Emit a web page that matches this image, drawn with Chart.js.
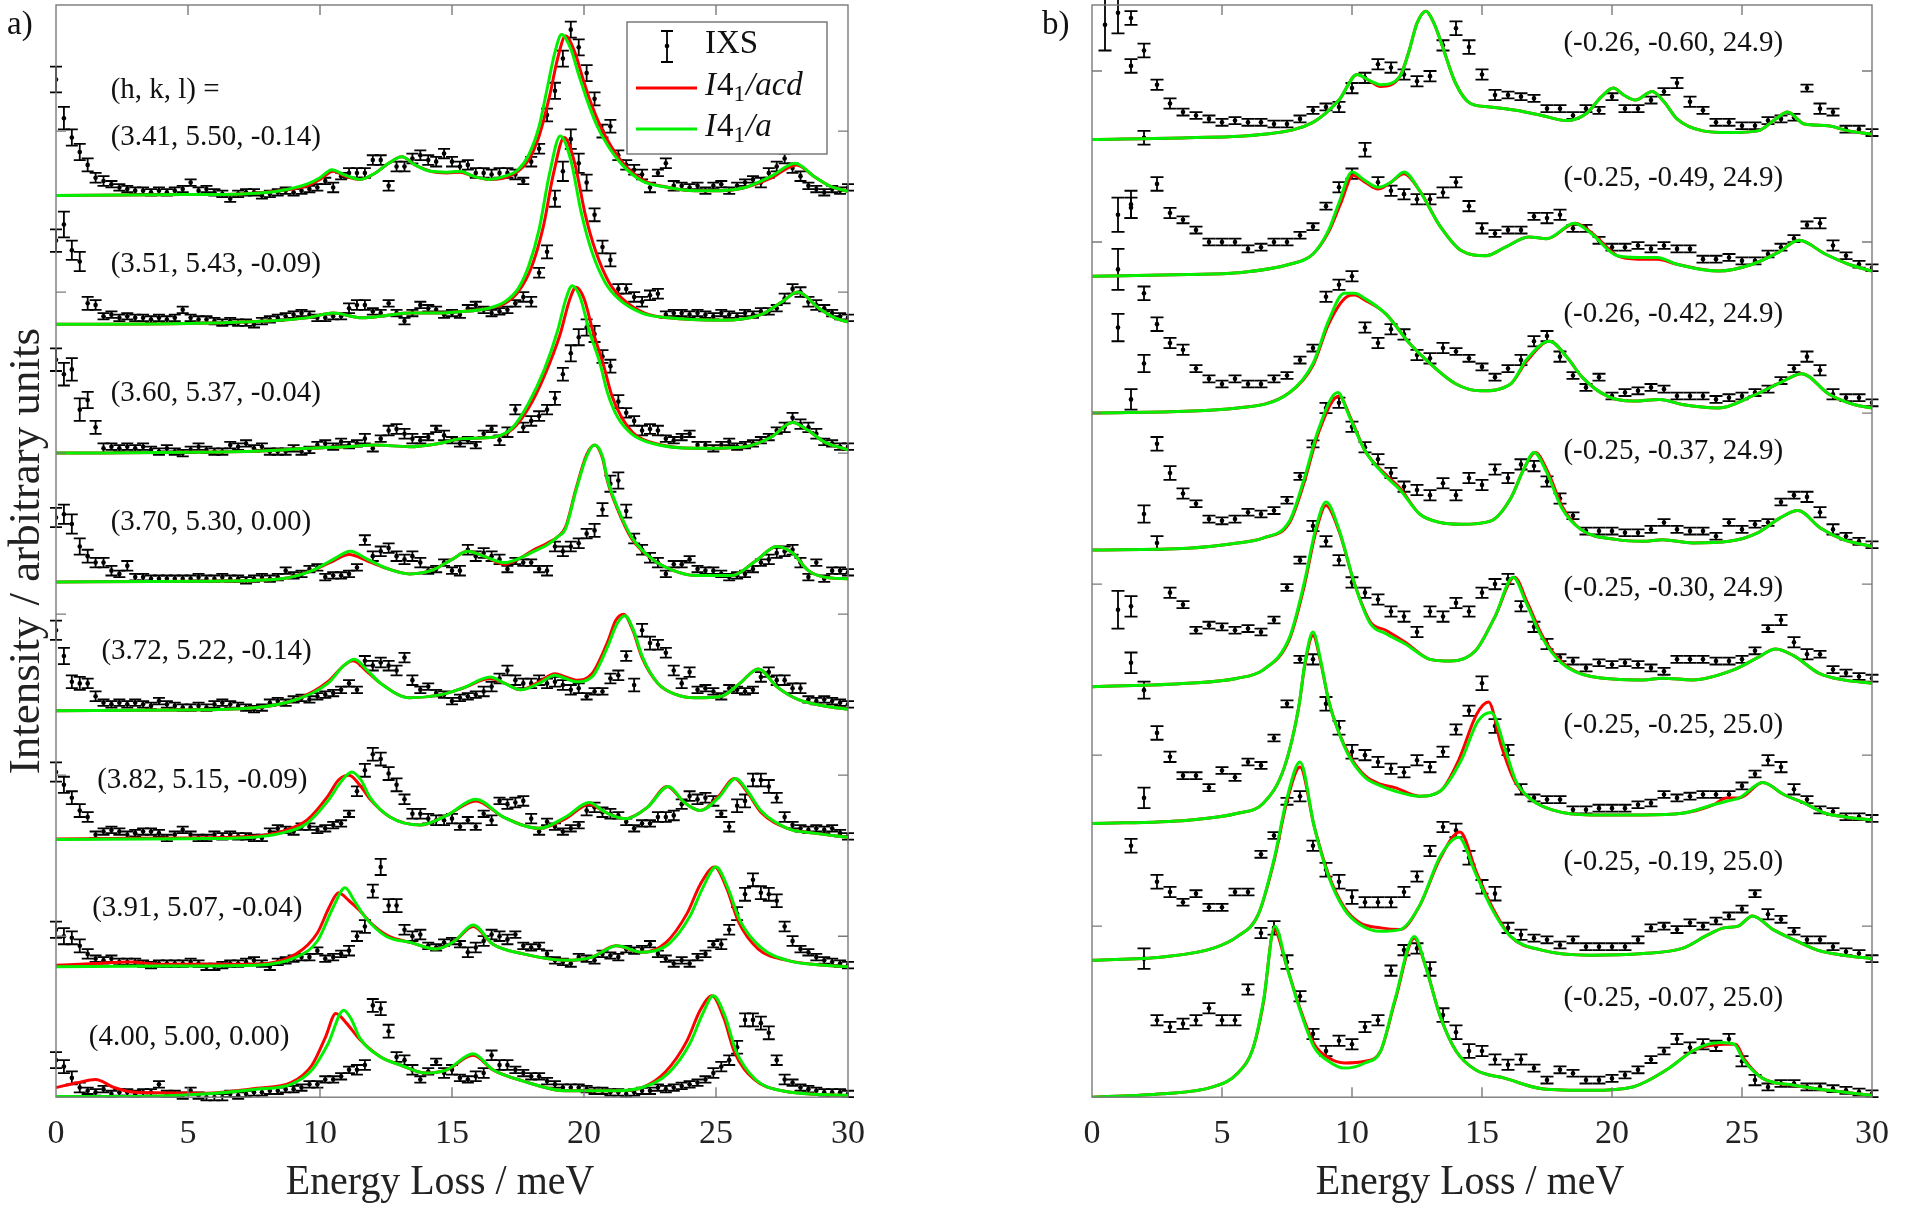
<!DOCTYPE html>
<html>
<head>
<meta charset="utf-8">
<script src="https://cdn.jsdelivr.net/npm/chart.js@4.4.1/dist/chart.umd.min.js"></script>
<style>
  html, body { margin: 0; padding: 0; background: #fff; }
  #wrap { position: relative; width: 1905px; height: 1213px; overflow: hidden; }
  #chartA { position: absolute; left: 0; top: 0; }
  #chartB { position: absolute; left: 952px; top: 0; }
</style>
</head>
<body>
<div id="wrap">
  <canvas id="chartA" width="952" height="1213"></canvas>
  <canvas id="chartB" width="953" height="1213"></canvas>
</div>
<script>
// ---------------------------------------------------------------
// data: intensities in hundredths of one y tick, spectra listed top -> bottom
// ---------------------------------------------------------------
const energiesA = [0,0.3,0.6,0.9,1.2,1.5,1.8,2.1,2.4,2.7,3,3.3,3.6,3.9,4.2,4.5,4.8,5.1,5.4,5.7,6,6.3,6.6,6.9,7.2,7.5,7.8,8.1,8.4,8.7,9,9.3,9.6,9.9,10.2,10.5,10.8,11.1,11.4,11.7,12,12.3,12.6,12.9,13.2,13.5,13.8,14.1,14.4,14.7,15,15.3,15.6,15.9,16.2,16.5,16.8,17.1,17.4,17.7,18,18.3,18.6,18.9,19.2,19.5,19.8,20.1,20.4,20.7,21,21.3,21.6,21.9,22.2,22.5,22.8,23.1,23.4,23.7,24,24.3,24.6,24.9,25.2,25.5,25.8,26.1,26.4,26.7,27,27.3,27.6,27.9,28.2,28.5,28.8,29.1,29.4,29.7,30];
const energiesB = [0.5,1,1.5,2,2.5,3,3.5,4,4.5,5,5.5,6,6.5,7,7.5,8,8.5,9,9.5,10,10.5,11,11.5,12,12.5,13,13.5,14,14.5,15,15.5,16,16.5,17,17.5,18,18.5,19,19.5,20,20.5,21,21.5,22,22.5,23,23.5,24,24.5,25,25.5,26,26.5,27,27.5,28,28.5,29,29.5,30];
const xTicks = [0, 5, 10, 15, 20, 25, 30];

const hklA = ['(3.41, 5.50, -0.14)', '(3.51, 5.43, -0.09)', '(3.60, 5.37, -0.04)', '(3.70, 5.30, 0.00)',
              '(3.72, 5.22, -0.14)', '(3.82, 5.15, -0.09)', '(3.91, 5.07, -0.04)', '(4.00, 5.00, 0.00)'];
const hklB = ['(-0.26, -0.60, 24.9)', '(-0.25, -0.49, 24.9)', '(-0.26, -0.42, 24.9)', '(-0.25, -0.37, 24.9)',
              '(-0.25, -0.30, 24.9)', '(-0.25, -0.25, 25.0)', '(-0.25, -0.19, 25.0)', '(-0.25, -0.07, 25.0)'];

// IXS points, panel a
const ixsA0 = [72,48,36,27,19,11,9,7,5,4, 3,3,2,3,2,3,4,8,3,4, 2,1,-2,1,2,2,0,1,2,3, 2,3,4,5,9,5,12,14,14,14, 22,22,6,18,18,23,25,22,21,26, 21,18,19,14,14,13,14,14,13,9, 21,29,50,65,85,103,92,76,60,40, 43,25,19,16,13,5,14,20,6,6, 5,6,3,6,7,3,6,8,10,8, 14,18,23,17,12,6,4,2,4,3, 5];
const ixsA1 = [52,62,46,39,13,12,5,6,4,5, 4,4,3,4,3,4,9,4,3,3, 2,1,2,1,1,0,2,3,4,5, 6,7,6,4,4,5,5,10,12,12, 8,7,13,7,2,7,12,10,9,6, 7,6,10,12,9,7,8,9,13,17, 14,32,45,78,95,115,100,88,68,48, 40,22,22,17,14,18,19,6,7,7, 6,7,6,5,7,6,5,7,6,8, 8,10,16,22,20,14,12,10,7,5, 4];
const ixsA2 = [58,49,52,27,33,16,3,4,3,4, 3,4,2,1,3,1,0,2,4,2, 1,1,5,4,6,3,4,1,1,1, 3,1,2,5,6,4,7,5,6,9, 3,9,14,15,12,9,8,10,15,11, 8,6,8,5,12,15,8,13,27,16, 20,23,27,34,49,62,72,78,74,60, 54,32,25,20,14,15,14,9,8,10, 12,5,5,3,5,7,4,5,6,8, 10,14,16,22,18,16,12,7,6,4, 4];
const ixsA3 = [40,42,36,22,16,12,12,7,5,10, 3,3,2,2,2,2,2,2,3,2, 2,3,2,2,1,2,3,2,3,7, 4,5,8,9,3,4,4,5,9,26, 16,19,21,16,14,16,12,7,8,12, 7,7,20,16,18,16,14,8,13,12, 12,8,7,22,19,22,24,30,32,45, 61,63,44,27,20,15,12,5,11,11, 14,8,7,7,5,3,4,5,8,12, 14,18,19,20,12,3,12,2,7,7, 6];
const ixsA4 = [50,34,18,17,17,9,5,4,5,4, 5,4,3,6,4,3,2,2,3,2, 4,5,4,3,2,1,2,5,6,5, 7,8,7,9,10,11,13,17,13,31, 28,30,28,25,33,19,13,15,11,10, 6,8,9,10,12,15,20,25,19,17, 17,19,17,18,16,13,14,9,12,12, 20,22,34,16,50,42,41,36,25,17, 24,13,14,12,9,14,13,12,13,21, 24,19,19,14,14,7,6,7,6,5, 4];
const ixsA5 = [42,34,26,18,14,3,5,6,5,3, 4,5,5,4,1,3,6,3,1,1, 3,2,3,2,2,1,1,5,7,6, 5,8,8,6,7,9,10,16,30,43, 53,50,41,34,25,16,16,13,12,12, 13,8,12,8,16,12,24,22,23,24, 13,5,11,8,5,7,9,18,20,17, 16,15,11,7,10,10,14,14,15,22, 27,25,26,24,16,8,21,24,37,37, 33,26,14,9,7,6,7,6,7,4, 2];
const ixsA6 = [24,20,19,14,9,6,5,6,4,4, 4,3,2,3,3,3,3,4,3,1, 1,2,3,3,4,5,3,1,4,5, 6,7,7,11,6,7,9,11,20,26, 48,63,39,39,24,20,21,14,13,16, 17,15,10,13,17,21,20,18,21,14, 13,14,9,5,4,3,7,6,5,9, 8,7,12,11,12,15,9,6,3,5, 3,7,9,15,15,24,34,46,55,47, 46,42,26,17,12,10,7,5,4,3, 2];
const ixsA7 = [23,19,12,6,4,3,5,2,3,3, 2,3,3,8,2,2,1,4,1,0, 0,0,2,1,2,3,3,4,4,5, 5,6,8,8,11,11,13,17,17,20, 57,55,41,25,23,17,11,16,22,15, 17,12,11,13,15,26,20,20,17,15, 13,13,10,8,6,6,6,5,4,4, 3,3,2,3,4,4,6,5,6,7, 8,9,11,15,19,23,31,48,48,46, 40,23,11,9,6,5,4,3,3,3, 2];

// error bar half heights, one base-36 digit per point (hundredths of a tick)
const errA0 = ['8755433222','2222222222','2222222222','2222232333','3333333333','3333333332','3345555544','4333332332','2222222223','3333322222','2'].join('');
const errA1 = ['7866432222','2222222222','2222222222','2222222333','2222222222','2222222223','3345666544','4333333222','2222222222','2233333222','2'].join('');
const errA2 = ['7777543222','2222222222','2222222222','2222222223','2233332223','2222223333','3334455554','4433333222','2222222222','2233333222','2'].join('');
const errA3 = ['6665433323','2222222222','2222222222','2222222223','3333333222','2333333222','2233333344','5543333222','2222222222','3333322222','2'].join('');
const errA4 = ['6544332222','2222222222','2222222222','2222222223','3333332222','2222333333','3333333222','3334443333','3222222223','3333322222','2'].join('');
const errA5 = ['6544322222','2222222222','2222222222','2222222234','4444333333','3222232333','3222222333','3222223333','3333234444','4332222222','2'].join('');
const errA6 = ['5544322222','2222222222','2222222222','2222222334','4544333222','2233333322','2222222222','2222222222','2222334444','4433222222','2'].join('');
const errA7 = ['5443222222','2222222222','2222222222','2222222233','4443332223','3223333322','2222222222','2222222222','2223334444','4332222222','2'].join('');

// IXS points, panel b (null = no point)
const ixsB0 = [67,74,71,52,32,21,16,14,12,10, 11,10,10,9,9,12,17,19,19,30, 36,44,42,38,34,37,55,65,54,38, 26,26,25,24,18,18,14,18,17,25, 18,18,23,28,33,22,17,10,10,8, 8,11,12,13,30,18,16,6,6,4];
const ixsB1 = [null,36,42,81,54,37,33,27,20,20, 20,16,17,20,20,24,29,41,52,60, 74,55,50,48,45,45,49,55,41,28, 25,27,27,35,34,36,28,28,21,17, 17,18,16,18,16,16,10,10,11,9, 9,13,17,22,30,31,18,12,7,5];
const ixsB2 = [null,84,null,70,52,41,37,26,20,17, 20,17,17,20,22,31,38,68,75,80, 50,41,49,46,34,32,38,36,32,27, 21,26,31,42,45,33,22,15,21,10, 12,13,15,14,10,10,10,8,9,10, 12,14,19,26,33,25,11,9,9,6];
const ixsB3 = [null,null,88,21,62,45,33,27,18,17, 18,22,21,23,29,43,62,83,86,72, 60,53,45,37,35,32,39,32,42,38, 47,42,50,49,40,30,20,11,11,11, 10,10,12,16,12,11,11,8,16,12, 15,16,28,32,31,22,12,8,5,3];
const ixsB4 = [null,45,47,-2,84,55,48,33,36,35, 33,34,32,39,58,74,94,85,74,61, 55,51,44,41,32,44,41,49,44,55, 60,63,47,35,25,17,15,11,14,13, 14,13,11,9,16,16,16,15,15,16, 21,34,39,26,19,19,10,8,6,5];
const ixsB5 = [null,null,94,15,53,39,28,28,21,31, 27,36,34,50,70,96,96,70,56,42, 40,36,32,30,37,33,42,55,66,82, 57,43,20,15,14,14,8,8,9,9, 9,11,12,17,15,16,17,17,17,22, 29,37,33,20,14,8,7,4,4,3];
const ixsB6 = [null,null,67,1,46,40,34,39,31,31, 40,40,62,73,93,96,67,53,46,37, 34,34,34,40,49,64,78,76,60,43, 39,19,15,13,12,9,12,8,8,8, 8,12,19,20,18,22,20,23,26,30, 39,27,24,17,12,12,8,5,4,1];
const ixsB7 = [null,null,null,null,45,41,43,45,52,45, 45,63,96,99,79,59,37,27,33,31, 41,45,74,86,87,75,48,38,27,27, 22,19,22,17,10,16,14,10,10,11, 13,16,22,27,34,29,31,30,34,21, 10,6,8,8,6,6,5,4,3,2];

const errB0 = ['fc44332222','2222222233','3333333443','3222222222','2222332222','2222232222'].join('');
const errB1 = ['0a84432222','2222222233','4333333333','2222332222','2222222222','2222233222'].join('');
const errB2 = ['0c04433222','2222222333','3333333222','2233332222','2222222222','2222333222'].join('');
const errB3 = ['0065443222','2222222333','3333333333','3333332222','2222222222','2222333222'].join('');
const errB4 = ['0b65432222','2222223333','3333333333','3333322222','2222222222','2233322222'].join('');
const errB5 = ['0066432222','2222223444','3333333334','4332222222','2222222222','2333222222'].join('');
const errB6 = ['0046432222','2222233444','3333333444','4332222222','2222222222','2322222222'].join('');
const errB7 = ['0000333333','3334433333','3333344443','3332222222','2222333333','3222222222'].join('');

// second readings at the same energy: [spectrum, energy, value, error]
const extraB = [[0, 1.5, 43, 4], [1, 1.5, 40, 6], [2, 1.0, 50, 8], [2, 2.0, 29, 5]];

// model curves [energy, value], panel a
const acdA0 = [[0,0],[4,0.5],[7,1],[8.5,3],[9.5,6],[10,10],[10.5,15],[10.95,12],[11.5,10],[12.1,14],[12.6,20],[13.1,24],[13.6,19],[14.2,15],[14.8,14],[15.3,14.5],[15.8,12],[16.4,10],[17,11],[17.5,15],[17.9,22],[18.3,37],[18.7,62],[19,85],[19.3,99],[19.65,89],[19.95,73],[20.25,58],[20.65,42],[21.05,30],[21.6,18],[22.3,9],[23.2,5],[24.2,3],[25.2,3],[26.1,5],[27.1,11],[28.05,19],[28.7,12],[29.3,6],[30,2.5]];
const aA0 = [[0,0],[4,0.5],[7,1],[8.5,3],[9.5,7],[10,11],[10.45,16],[10.9,13],[11.5,10],[12.1,14],[12.6,20],[13.1,24],[13.6,19],[14.2,15],[14.8,14.5],[15.3,15],[15.8,12],[16.4,10],[17,12],[17.5,16],[17.9,25],[18.3,43],[18.6,66],[18.9,89],[19.15,100],[19.5,91],[19.8,75],[20.1,60],[20.5,43],[20.9,31],[21.45,19],[22.2,9],[23.2,5],[24.2,3],[25.2,3],[26.1,5],[27.1,12],[28,20],[28.7,12],[29.3,6],[30,2.5]];
const acdA1 = [[0,0],[5,0.5],[8,2],[9.5,4],[10.5,7],[11.6,4],[12.5,5.5],[13.4,7],[14.5,7],[15.4,8],[16.4,10],[17,13],[17.5,20],[18,35],[18.45,60],[18.85,94],[19.25,116],[19.65,100],[20.05,68],[20.45,45],[20.95,26],[21.45,16],[22.3,7],[23.2,4],[25.2,2.5],[26.7,6],[27.5,14],[28.1,20],[28.9,10],[29.5,4],[30,1.5]];
const aA1 = [[0,0],[5,0.5],[8,2],[9.5,4],[10.5,7],[11.6,4],[12.5,5.5],[13.4,7],[14.5,7],[15.4,8],[16.4,10],[17,14],[17.5,22],[17.9,36],[18.3,59],[18.7,94],[19.1,117],[19.5,102],[19.9,69],[20.3,45],[20.8,26],[21.3,16],[22.2,7],[23.2,4],[25.2,2.5],[26.7,6],[27.5,14],[28.1,20],[28.9,10],[29.5,4],[30,1.5]];
const acdA2 = [[0,0],[5,0.5],[8,1.5],[9.5,3],[11,4],[12.1,5],[13.4,4],[14.5,6],[15.4,9],[16.6,10],[17.3,15],[17.9,28],[18.5,48],[19.1,74],[19.45,95],[19.7,103],[20,96],[20.35,75],[20.75,54],[21.05,36],[21.4,23],[21.9,12],[22.7,6],[24.2,3],[26.1,4],[27.1,10],[27.9,19],[28.5,14],[29.1,7],[30,2]];
const aA2 = [[0,0],[5,0.5],[8,1.5],[9.5,3],[11,4],[12.1,5],[13.4,4],[14.5,6],[15.4,9],[16.6,10],[17.3,16],[17.9,31],[18.5,52],[19,76],[19.3,95],[19.55,104],[19.85,97],[20.2,76],[20.6,56],[20.9,37],[21.25,23],[21.8,12],[22.6,6],[24.2,3],[26.1,4],[27.1,10],[27.9,19],[28.5,14],[29.1,7],[30,2]];
const acdA3 = [[0,0],[6,0.5],[8.55,2],[9.7,7],[10.5,13],[11.1,17],[11.8,13],[12.6,8],[13.4,5],[14.2,7],[15,14],[15.6,19],[16.2,16],[17,11],[17.6,15],[18.1,20],[18.6,24],[19,28],[19.3,34],[19.7,58],[20.1,79],[20.4,85],[20.7,77],[20.9,62],[21.25,46],[21.8,27],[22.6,14],[23.4,7],[24.2,4],[25.6,4],[26.5,13],[27.3,22],[27.9,18],[28.5,7],[29.1,3],[30,2]];
const aA3 = [[0,0],[6,0.5],[8.55,2],[9.7,7],[10.5,14],[11.15,19],[11.8,14],[12.6,8],[13.4,5],[14.2,7],[15,14],[15.6,19],[16.2,16],[17,12],[17.6,15],[18.1,19],[18.6,23],[19,28],[19.3,33],[19.7,57],[20.1,78],[20.4,85],[20.7,78],[20.9,63],[21.25,47],[21.8,28],[22.6,14],[23.4,7],[24.2,4],[25.6,4],[26.5,13],[27.3,22],[27.9,18],[28.5,7],[29.1,3],[30,2]];
const acdA4 = [[0,0],[5,0.5],[7.6,2],[9.1,7],[10.3,18],[10.9,28],[11.25,31],[11.8,24],[12.3,17],[13.4,8],[14.6,10],[15.4,14],[16.45,20],[17,17],[17.6,13],[18.3,18],[18.9,23],[19.3,21],[19.7,19],[20.3,23],[20.9,43],[21.2,56],[21.5,60],[21.85,50],[22.2,33],[22.8,17],[23.5,10],[24.2,8],[25.2,9],[25.9,17],[26.6,26],[27.3,15],[28.1,7],[29.1,3],[30,1]];
const aA4 = [[0,0],[5,0.5],[7.6,2],[9.1,7],[10.3,17],[10.9,28],[11.3,32],[11.8,25],[12.3,17],[13.4,8],[14.6,10],[15.4,14],[16.45,21],[17,17],[17.6,13],[18.3,17],[18.9,22],[19.3,20],[19.7,18],[20.3,21],[20.9,40],[21.25,54],[21.55,59],[21.9,49],[22.2,34],[22.8,17],[23.5,10],[24.2,8],[25.2,9],[25.9,17],[26.6,26],[27.3,15],[28.1,7],[29.1,3],[30,1]];
const acdA5 = [[0,0.3],[3,0.8],[5,1],[7.5,2],[8.55,5],[9.5,12],[10.3,27],[10.7,37],[11.1,40],[11.5,34],[11.9,25],[12.65,14],[13.8,9],[14.8,15],[15.9,24],[16.95,14],[18.3,7],[19.3,13],[20.2,22],[20.8,17],[21.55,13],[22.4,20],[23.15,33],[23.8,23],[24.4,18],[25.1,27],[25.7,38],[26.2,29],[26.7,17],[27.7,7],[28.7,4],[30,1.5]];
const aA5 = [[0,0],[5,0.5],[7.5,1.5],[8.55,4],[9.5,10],[10.3,24],[10.8,36],[11.2,42],[11.55,37],[11.9,26],[12.65,14],[13.8,9],[14.8,15],[15.9,25],[16.95,14],[18.3,7],[19.3,14],[20.2,23],[20.8,17],[21.55,13],[22.4,20],[23.2,33],[23.8,23],[24.4,18],[25.1,26],[25.75,38],[26.2,30],[26.7,18],[27.7,7],[28.7,4],[30,1.5]];
const acdA6 = [[0,2],[1.5,3],[2.8,4],[4,2.5],[7.6,2.5],[9.1,9],[9.9,22],[10.35,38],[10.7,47],[11.1,42],[11.5,36],[12,27],[12.6,20],[13.45,16],[14.4,12],[15.1,17],[15.8,26],[16.55,15],[17.7,9],[19.3,5],[20.3,7],[21.2,14],[22.2,10],[23.1,16],[23.9,34],[24.4,52],[24.95,63],[25.4,50],[25.85,29],[26.6,12],[27.7,5],[29.1,2],[30,1]];
const aA6 = [[0,1],[4,1.5],[7.6,2],[9.1,7],[9.9,17],[10.5,38],[10.95,50],[11.3,42],[11.7,32],[12.5,20],[13.45,16],[14.4,12],[15.1,17],[15.8,27],[16.55,15],[17.7,9],[19.3,5],[20.3,7],[21.25,14],[22.2,10],[23.2,15],[24,32],[24.5,50],[25,63],[25.45,50],[25.9,30],[26.7,13],[27.7,5],[29.1,2],[30,1]];
const acdA7 = [[0,6],[0.8,9],[1.5,11],[2.2,6],[3,3],[5.6,2.5],[7.6,5.5],[8.9,9],[9.7,20],[10.2,37],[10.6,52],[11,46],[11.5,36],[12.3,25],[13.05,20],[14,15],[14.8,17],[15.8,26],[16.55,17],[17.7,10],[19.3,4],[21.25,4],[22.2,6],[23.1,16],[23.9,35],[24.4,54],[24.85,63],[25.3,49],[25.7,28],[26.45,11],[27.5,4],[30,1]];
const aA7 = [[0,0.5],[3,0.5],[5.6,2],[7.6,5],[8.9,8],[9.7,17],[10.3,33],[10.9,54],[11.2,48],[11.5,37],[12.3,25],[13.05,20],[14,15],[14.8,17],[15.8,27],[16.55,17],[17.7,10],[19.3,4],[21.25,4],[22.2,6],[23.2,15],[24,33],[24.5,52],[24.9,63],[25.35,50],[25.75,29],[26.5,11],[27.5,4],[30,1]];

// model curves, panel b
const acdB0 = [[0,0],[3.7,1],[6.6,3],[8.5,10],[9.5,23],[10.2,38],[10.6,35],[11.1,31],[11.85,37],[12.2,52],[12.5,68],[12.85,75],[13.15,68],[13.4,58],[13.98,33],[14.56,21],[15.3,19],[16.3,17],[17.3,14],[18.25,11],[19,15],[19.6,25],[20.05,30],[20.45,26],[20.9,23],[21.55,28],[22,22],[22.5,12],[23.5,5],[24.5,4],[25.6,5],[26.3,12],[26.75,16],[27.4,9],[28.3,8],[29.1,5],[30,3]];
const aB0 = [[0,0],[3.7,1],[6.6,3],[8.5,10],[9.5,23],[10.2,38],[10.6,35],[11.1,32],[11.85,37],[12.2,52],[12.5,68],[12.85,75],[13.15,68],[13.4,58],[13.98,33],[14.56,21],[15.3,19],[16.3,17],[17.3,14],[18.25,11],[19,15],[19.6,25],[20.05,30],[20.45,26],[20.9,23],[21.55,28],[22,22],[22.5,12],[23.5,5],[24.5,4],[25.6,5],[26.3,12],[26.75,16],[27.4,9],[28.3,8],[29.1,5],[30,3]];
const acdB1 = [[0,0],[3.7,1],[5.6,2],[7.6,7],[8.5,13],[9.1,26],[9.55,42],[10.05,59],[10.5,55],[11,51],[11.5,55],[12,60],[12.6,50],[13.4,29],[14.2,15],[15.15,12],[15.9,17],[16.8,23],[17.5,22],[18.6,31],[19.25,25],[20.2,12],[21,10],[21.75,10],[22.5,7],[24.1,3],[25.4,7],[26.4,14],[27.2,21],[28.2,13],[29.1,7],[30,3]];
const aB1 = [[0,0],[3.7,1],[5.6,2],[7.6,7],[8.5,13],[9.1,27],[9.5,43],[10,61],[10.5,56],[11,52],[11.5,55],[12,61],[12.6,50],[13.4,29],[14.2,15],[15.15,12],[15.9,17],[16.8,23],[17.5,22],[18.55,31],[19.2,25],[20.2,12],[21,11],[21.75,11],[22.5,7],[24.1,3],[25.4,7],[26.4,14],[27.2,21],[28.2,13],[29.1,7],[30,3]];
const acdB2 = [[0,0],[5.6,3],[7.6,12],[8.5,28],[9.1,52],[9.8,68],[10.1,69],[10.5,66],[11.3,58],[12.2,41],[13,29],[14,17],[14.95,13],[16.1,17],[16.7,30],[17.6,42],[18.3,32],[18.85,21],[19.8,10],[20.8,7],[21.85,8],[22.7,5],[24.1,3],[25.4,10],[26.5,18],[27.3,23],[28.35,11],[29.3,5],[30,3]];
const aB2 = [[0,0],[5.6,3],[7.6,12],[8.5,29],[9.1,54],[9.7,70],[10.1,70],[10.5,67],[11.3,58],[12.2,41],[13,29],[14,17],[14.95,13],[16.1,17],[16.7,31],[17.6,42],[18.3,32],[18.85,21],[19.8,10],[20.8,7],[21.85,8],[22.7,5],[24.1,3],[25.4,10],[26.5,18],[27.3,23],[28.35,11],[29.3,5],[30,3]];
const acdB3 = [[0,0],[3.7,1],[5.6,4],[6.6,7],[7.6,16],[8.15,39],[8.7,68],[9.5,90],[9.95,77],[10.5,58],[11.3,44],[11.85,36],[12.6,21],[13.4,16],[14.2,15],[15.35,17],[16.1,30],[16.6,47],[17.05,57],[17.55,45],[18.1,25],[18.8,12],[20.2,6],[21.2,5],[21.95,6],[23.1,4],[24.5,5],[25.6,10],[26.5,19],[27.15,23],[28,13],[28.9,6],[30,2]];
const aB3 = [[0,0],[3.7,1],[5.6,4],[6.6,7],[7.6,17],[8.15,41],[8.7,70],[9.45,92],[9.9,78],[10.5,58],[11.3,43],[11.85,35],[12.6,21],[13.4,16],[14.2,15],[15.35,17],[16.1,30],[16.6,47],[17,57],[17.5,45],[18.05,25],[18.8,12],[20.2,6],[21.2,5],[21.95,6],[23.1,4],[24.5,5],[25.6,10],[26.5,19],[27.15,23],[28,13],[28.9,6],[30,2]];
const acdB4 = [[0,0],[3.7,2],[5.6,5],[6.6,10],[7.6,28],[8.15,58],[8.6,90],[9,106],[9.5,91],[10.1,60],[10.7,38],[11.3,33],[12.05,26],[13,16],[13.8,15],[14.75,21],[15.5,41],[16.25,64],[16.75,49],[17.35,29],[18.1,14],[19.2,6],[21.2,4],[21.95,5],[23.1,4],[24.7,10],[25.6,17],[26.3,22],[27,18],[27.95,8],[28.9,4],[30,2]];
const aB4 = [[0,0],[3.7,2],[5.6,5],[6.6,10],[7.6,29],[8.15,60],[8.6,92],[9,108],[9.5,92],[10.1,60],[10.7,37],[11.3,31],[12.05,25],[13,16],[13.8,15],[14.75,21],[15.5,41],[16.2,64],[16.7,49],[17.3,29],[18.05,14],[19.2,6],[21.2,4],[21.95,5],[23.1,4],[24.7,10],[25.6,17],[26.3,22],[27,18],[27.95,8],[28.9,4],[30,2]];
const acdB5 = [[0,0],[3.7,2],[5.6,6],[6.6,12],[7.4,33],[7.95,68],[8.2,94],[8.5,110],[8.8,94],[9.1,72],[9.5,53],[9.9,40],[10.5,28],[11.1,23],[11.65,21],[12.6,16],[13.4,19],[14.1,37],[14.8,64],[15.25,71],[15.75,45],[16.25,25],[16.9,14],[17.7,8],[19.2,5],[21.2,5],[22.7,6],[23.9,11],[24.4,15],[24.9,15],[25.8,24],[26.6,17],[27.4,12],[28.2,6],[28.9,4],[30,2]];
const aB5 = [[0,0],[3.7,2],[5.6,6],[6.6,12],[7.4,33],[7.95,68],[8.2,95],[8.5,112],[8.8,95],[9.1,72],[9.5,53],[9.9,39],[10.5,27],[11.1,22],[11.65,19],[12.6,16],[13.4,19],[14.2,37],[14.85,60],[15.35,65],[15.9,43],[16.3,25],[16.9,14],[17.7,8],[19.2,5],[21.2,5],[22.7,6],[23.9,11],[24.4,13],[24.9,15],[25.8,24],[26.6,17],[27.4,12],[28.2,6],[28.9,4],[30,2]];
const acdB6 = [[0,0],[2.7,2],[4.65,7],[5.6,14],[6.4,27],[7,58],[7.5,93],[8,113],[8.55,78],[9.1,50],[9.7,31],[10.3,22],[11.1,19],[11.85,18],[12.6,32],[13.4,60],[14.15,75],[14.8,51],[15.4,31],[16.1,14],[17.3,6],[19.2,3],[21.2,4],[22.7,7],[23.7,15],[24.3,19],[24.85,20],[25.4,26],[26.2,18],[27,12],[27.9,6],[28.9,3],[30,1]];
const aB6 = [[0,0],[2.7,2],[4.65,7],[5.6,14],[6.4,27],[7,59],[7.5,95],[8,116],[8.55,78],[9.1,49],[9.7,30],[10.3,21],[11.1,17],[11.85,18],[12.6,32],[13.4,61],[14.1,72],[14.75,51],[15.35,31],[16.1,14],[17.3,6],[19.2,3],[21.2,4],[22.7,7],[23.7,15],[24.3,19],[24.85,20],[25.4,26],[26.2,18],[27,12],[27.9,6],[28.9,3],[30,1]];
const acdB7 = [[0,0],[2.7,2],[4.65,6],[5.6,14],[6.2,29],[6.6,56],[7,98],[7.5,76],[8,52],[8.55,31],[9.1,23],[9.7,20],[10.5,21],[11.1,27],[11.65,56],[12.4,93],[12.8,78],[13.4,47],[14,27],[14.75,16],[15.9,11],[17.3,5],[19.2,4],[20.8,6],[22.1,16],[23.1,27],[23.7,30],[24.3,31],[24.75,31],[25.1,22],[25.8,11],[27,7],[28.35,4],[30,1]];
const aB7 = [[0,0],[2.7,2],[4.65,6],[5.6,14],[6.2,29],[6.6,57],[7.03,100],[7.5,76],[8,51],[8.55,29],[9.1,21],[9.7,17],[10.5,20],[11.1,27],[11.65,57],[12.4,94],[12.8,78],[13.4,47],[14,27],[14.75,16],[15.9,11],[17.3,5],[19.2,4],[20.8,6],[22.1,16],[23.1,27],[23.7,31],[24.2,32],[24.7,31],[25.05,22],[25.8,11],[27,7],[28.35,4],[30,1]];

// ---------------------------------------------------------------
// look
// ---------------------------------------------------------------
const SERIF = "'Liberation Serif', 'DejaVu Serif', 'Times New Roman', serif";
const RED = '#ff0000';
const GREEN = '#00f000';
const FRAME = '#7a7a7a';
const STEP = 0.8;   // shift between neighbouring spectra, in y ticks
const UNIT = 0.01;

function spectrumPoints(vals, errs, energies, k, extras) {
  const off = (7 - k) * STEP;
  const out = [];
  if (errs.length !== vals.length) console.warn('error string length', k, errs.length, vals.length);
  vals.forEach((v, i) => {
    if (v === null) return;
    const e = parseInt(errs.charAt(i), 36);
    out.push({ x: energies[i], y: off + v * UNIT, e: isNaN(e) ? 0 : e * UNIT });
  });
  (extras || []).filter(r => r[0] === k).forEach(r => {
    out.push({ x: r[1], y: off + r[2] * UNIT, e: r[3] * UNIT });
  });
  return out;
}

function curvePoints(knots, k) {
  const off = (7 - k) * STEP;
  return knots.map(([x, v]) => ({ x: x, y: off + v * UNIT }));
}

function modelLabel(ctx, x, y, suffix) {
  ctx.font = 'italic 33px ' + SERIF;
  ctx.fillText('I', x, y);
  let w = ctx.measureText('I').width + 1;
  ctx.font = '33px ' + SERIF;
  ctx.fillText('4', x + w, y);
  w += ctx.measureText('4').width;
  ctx.font = '23px ' + SERIF;
  ctx.fillText('1', x + w, y + 9);
  w += ctx.measureText('1').width + 1;
  ctx.font = 'italic 33px ' + SERIF;
  ctx.fillText('/' + suffix, x + w, y);
}

function panelPlugin(p) {
  return {
    id: 'panel' + p.letter,
    beforeDatasetsDraw(chart) {
      const { ctx, scales: { y } } = chart;
      ctx.save();
      ctx.strokeStyle = '#000';
      ctx.lineWidth = 1.8;
      chart.data.datasets.forEach((ds, i) => {
        if (!ds.errorBars) return;
        chart.getDatasetMeta(i).data.forEach((el, j) => {
          const pt = ds.data[j];
          if (!pt.e) return;
          const top = y.getPixelForValue(pt.y + pt.e);
          const bot = y.getPixelForValue(pt.y - pt.e);
          ctx.beginPath();
          ctx.moveTo(el.x, top); ctx.lineTo(el.x, bot);
          ctx.moveTo(el.x - p.cap, top); ctx.lineTo(el.x + p.cap, top);
          ctx.moveTo(el.x - p.cap, bot); ctx.lineTo(el.x + p.cap, bot);
          ctx.stroke();
        });
      });
      ctx.restore();
    },
    afterDraw(chart) {
      const { ctx, chartArea: a, scales: { x, y } } = chart;
      ctx.save();
      // frame and inward ticks
      ctx.strokeStyle = FRAME;
      ctx.lineWidth = 1.4;
      ctx.strokeRect(a.left, a.top, a.right - a.left, a.bottom - a.top);
      ctx.beginPath();
      xTicks.slice(1, -1).forEach(t => {
        const px = x.getPixelForValue(t);
        ctx.moveTo(px, a.bottom); ctx.lineTo(px, a.bottom - 10);
        ctx.moveTo(px, a.top); ctx.lineTo(px, a.top + 10);
      });
      for (let t = 1; t <= Math.floor(p.yMax); t++) {
        const py = y.getPixelForValue(t);
        ctx.moveTo(a.left, py); ctx.lineTo(a.left + 10, py);
        ctx.moveTo(a.right, py); ctx.lineTo(a.right - 10, py);
      }
      ctx.stroke();

      // spectrum labels
      ctx.fillStyle = '#111';
      ctx.textBaseline = 'middle';
      ctx.textAlign = 'left';
      ctx.font = '29px ' + SERIF;
      p.labels.forEach((txt, k) => {
        const off = (7 - k) * STEP;
        ctx.fillText(txt, x.getPixelForValue(p.labelX[k]), y.getPixelForValue(off + p.labelDy[k]));
      });
      if (p.header) {
        ctx.fillText(p.header, x.getPixelForValue(p.labelX[0]), y.getPixelForValue(7 * STEP + 0.65));
      }

      // axis title (slightly condensed like the original), panel letter
      ctx.save();
      ctx.translate((a.left + a.right) / 2 - 12, 1183);
      ctx.scale(0.95, 1);
      ctx.font = '42px ' + SERIF;
      ctx.textAlign = 'center';
      ctx.fillStyle = '#222';
      ctx.fillText('Energy Loss / meV', 0, 0);
      ctx.restore();

      ctx.font = '33px ' + SERIF;
      ctx.textAlign = 'left';
      ctx.fillStyle = '#111';
      ctx.fillText(p.letter + ')', p.letterX, 25);

      if (p.yTitle) {
        ctx.save();
        ctx.translate(27, (a.top + a.bottom) / 2);
        ctx.rotate(-Math.PI / 2);
        ctx.textAlign = 'center';
        ctx.font = '45px ' + SERIF;
        ctx.fillStyle = '#222';
        ctx.fillText(p.yTitle, 0, 0);
        ctx.restore();
      }

      if (p.legend) {
        const L = a.right - 221, T = a.top + 17;
        ctx.fillStyle = '#fff';
        ctx.fillRect(L, T, 200, 132);
        ctx.strokeStyle = FRAME;
        ctx.lineWidth = 1.5;
        ctx.strokeRect(L, T, 200, 132);
        // IXS symbol
        const ex = L + 40, ey = T + 24;
        ctx.strokeStyle = '#000';
        ctx.lineWidth = 1.8;
        ctx.beginPath();
        ctx.moveTo(ex, ey - 15); ctx.lineTo(ex, ey + 16);
        ctx.moveTo(ex - 6, ey - 15); ctx.lineTo(ex + 6, ey - 15);
        ctx.moveTo(ex - 6, ey + 16); ctx.lineTo(ex + 6, ey + 16);
        ctx.stroke();
        ctx.fillStyle = '#000';
        ctx.beginPath(); ctx.arc(ex, ey, 2.3, 0, 2 * Math.PI); ctx.fill();
        ctx.fillStyle = '#111';
        ctx.font = '33px ' + SERIF;
        ctx.fillText('IXS', L + 78, ey - 2);
        // model lines
        ctx.lineWidth = 3;
        ctx.strokeStyle = RED;
        ctx.beginPath(); ctx.moveTo(L + 9, T + 66); ctx.lineTo(L + 70, T + 66); ctx.stroke();
        ctx.strokeStyle = GREEN;
        ctx.beginPath(); ctx.moveTo(L + 9, T + 107); ctx.lineTo(L + 70, T + 107); ctx.stroke();
        modelLabel(ctx, L + 78, T + 64, 'acd');
        modelLabel(ctx, L + 78, T + 105, 'a');
      }
      ctx.restore();
    }
  };
}

function makePanel(canvasId, p) {
  const datasets = [];
  for (let k = 0; k < 8; k++) {
    datasets.push({
      label: 'IXS ' + p.labels[k],
      data: spectrumPoints(p.ixs[k], p.errs[k], p.energies, k, p.extras),
      showLine: false,
      pointRadius: 2.3,
      pointBackgroundColor: '#000',
      pointBorderWidth: 0,
      errorBars: true,
      order: 2
    });
    datasets.push({
      label: 'I41/acd ' + p.labels[k],
      data: curvePoints(p.acd[k], k),
      borderColor: RED,
      borderWidth: 3,
      pointRadius: 0,
      cubicInterpolationMode: 'monotone',
      tension: 0.4,
      fill: false,
      order: 1
    });
    datasets.push({
      label: 'I41/a ' + p.labels[k],
      data: curvePoints(p.a[k], k),
      borderColor: GREEN,
      borderWidth: 3,
      pointRadius: 0,
      cubicInterpolationMode: 'monotone',
      tension: 0.4,
      fill: false,
      order: 0
    });
  }

  return new Chart(document.getElementById(canvasId), {
    type: 'line',
    data: { datasets },
    options: {
      responsive: false,
      animation: false,
      devicePixelRatio: 1,
      events: [],
      layout: { padding: p.padding },
      plugins: { legend: { display: false }, tooltip: { enabled: false } },
      scales: {
        x: {
          type: 'linear', min: 0, max: 30,
          grid: { display: false, drawTicks: false },
          border: { display: false },
          ticks: { stepSize: 5, padding: 16, color: '#222', font: { family: SERIF, size: 34, lineHeight: 1.2 } }
        },
        y: { type: 'linear', display: false, min: 0, max: p.yMax }
      }
    },
    plugins: [panelPlugin(p)]
  });
}

makePanel('chartA', {
  letter: 'a', letterX: 7,
  energies: energiesA,
  ixs: [ixsA0, ixsA1, ixsA2, ixsA3, ixsA4, ixsA5, ixsA6, ixsA7],
  errs: [errA0, errA1, errA2, errA3, errA4, errA5, errA6, errA7],
  acd: [acdA0, acdA1, acdA2, acdA3, acdA4, acdA5, acdA6, acdA7],
  a: [aA0, aA1, aA2, aA3, aA4, aA5, aA6, aA7],
  labels: hklA,
  header: '(h, k, l) =',
  labelX: [2.07, 2.07, 2.07, 2.07, 1.72, 1.56, 1.37, 1.24],
  labelDy: [0.36, 0.37, 0.37, 0.37, 0.37, 0.37, 0.37, 0.37],
  yMax: 6.783,
  cap: 6,
  padding: { left: 56, right: 104, top: 5, bottom: 43 },
  yTitle: 'Intensity / arbitrary units',
  legend: true
});

makePanel('chartB', {
  letter: 'b', letterX: 90,
  energies: energiesB,
  ixs: [ixsB0, ixsB1, ixsB2, ixsB3, ixsB4, ixsB5, ixsB6, ixsB7],
  errs: [errB0, errB1, errB2, errB3, errB4, errB5, errB6, errB7],
  extras: extraB,
  acd: [acdB0, acdB1, acdB2, acdB3, acdB4, acdB5, acdB6, acdB7],
  a: [aB0, aB1, aB2, aB3, aB4, aB5, aB6, aB7],
  labels: hklB,
  labelX: [18.13, 18.13, 18.13, 18.13, 18.13, 18.13, 18.13, 18.13],
  labelDy: [0.56, 0.57, 0.575, 0.575, 0.575, 0.575, 0.575, 0.575],
  yMax: 6.386,
  cap: 6.5,
  padding: { left: 140, right: 24, top: 5, bottom: 43 },
  legend: false
});
</script>
</body>
</html>
